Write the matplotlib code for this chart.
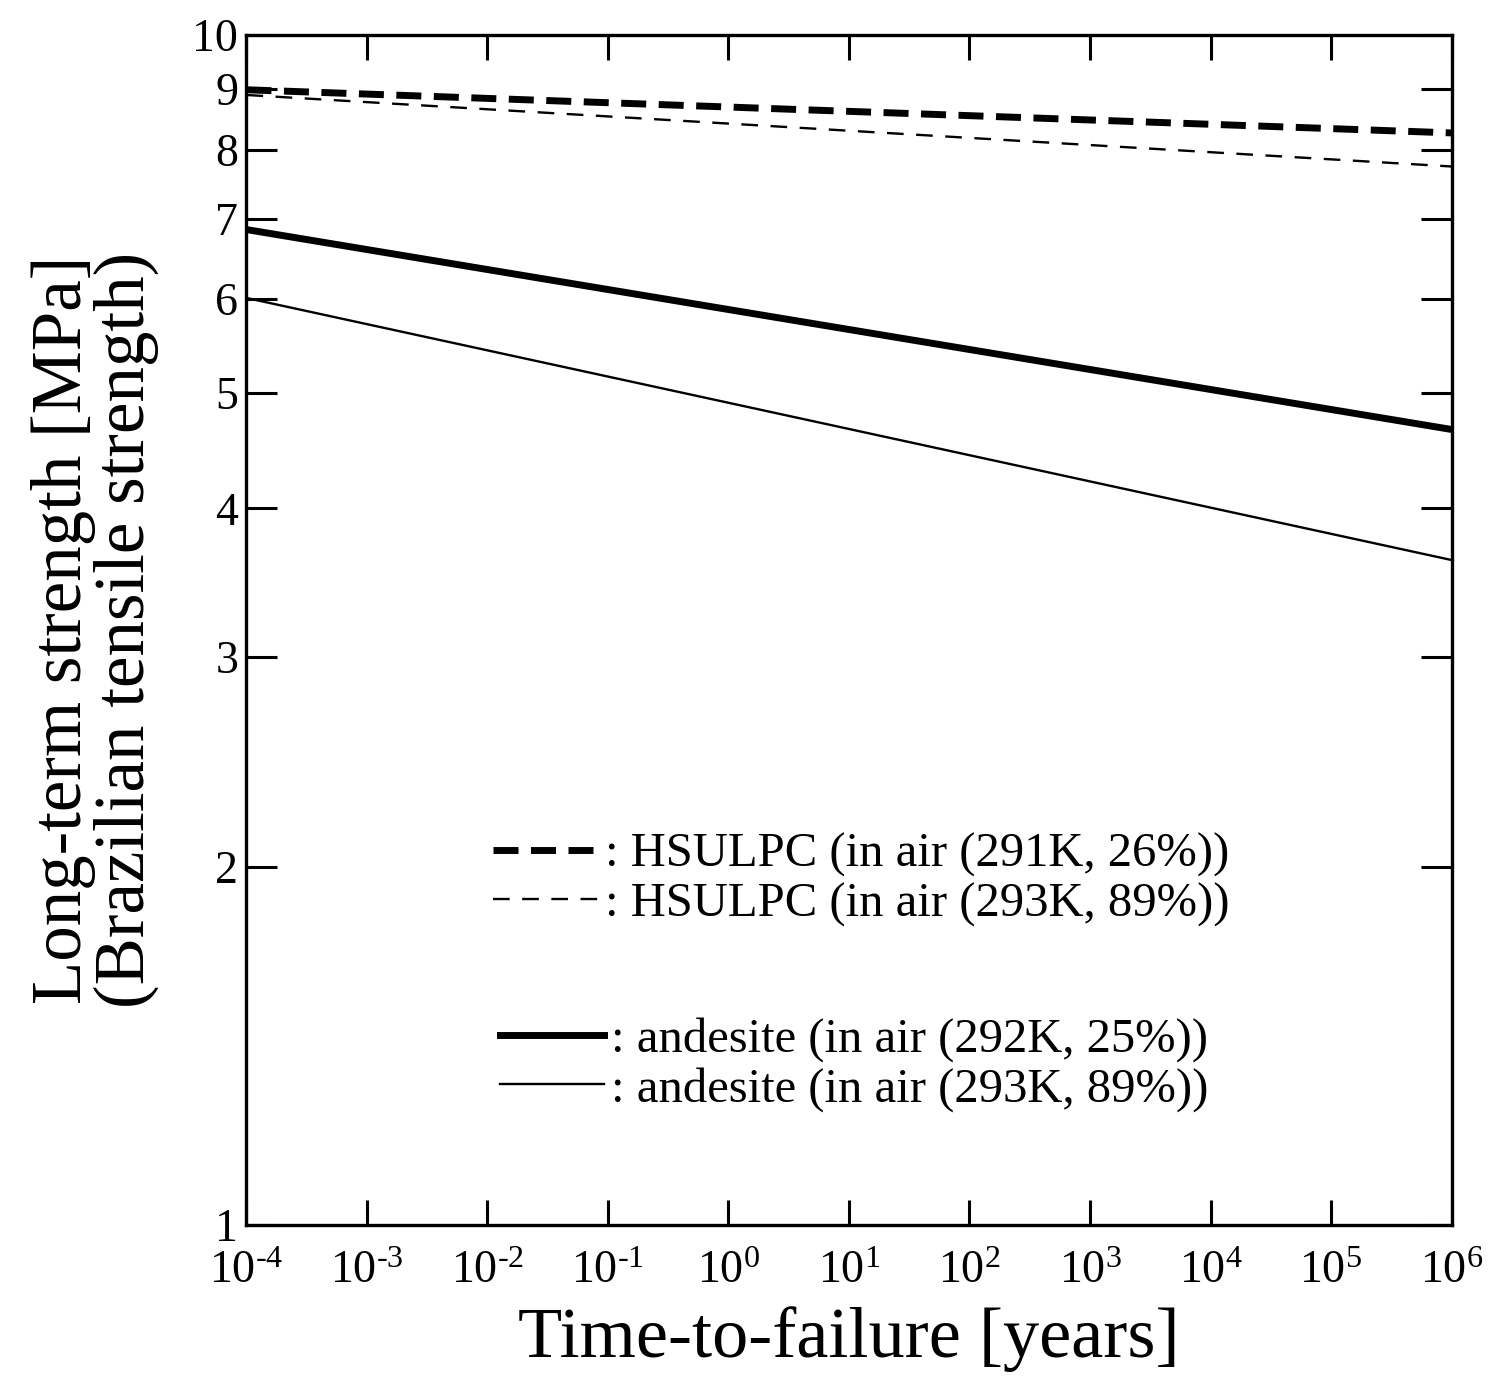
import matplotlib
matplotlib.use("Agg")
import matplotlib.pyplot as plt
from matplotlib.ticker import FixedLocator, FixedFormatter, NullLocator

plt.rcParams['font.family'] = ['Liberation Serif', 'DejaVu Serif']
plt.rcParams['mathtext.fontset'] = 'custom'
plt.rcParams['mathtext.rm'] = 'Liberation Serif'
plt.rcParams['mathtext.it'] = 'Liberation Serif'
plt.rcParams['lines.scale_dashes'] = False

# Data (time-to-failure in years, long-term strength in MPa)
time_years = [1e-4, 1e6]
hsulpc_291K_26 = [8.99, 8.27]
hsulpc_293K_89 = [8.90, 7.75]
andesite_292K_25 = [6.86, 4.66]
andesite_293K_89 = [6.01, 3.62]

labels = [": HSULPC (in air (291K, 26%))",
          ": HSULPC (in air (293K, 89%))",
          ": andesite (in air (292K, 25%))",
          ": andesite (in air (293K, 89%))"]

x_ticks = [1e-4, 1e-3, 1e-2, 1e-1, 1e0, 1e1, 1e2, 1e3, 1e4, 1e5, 1e6]
x_tick_labels = [r"$10^{\text{-}4}$", r"$10^{\text{-}3}$", r"$10^{\text{-}2}$", r"$10^{\text{-}1}$",
                 "$10^{0}$", "$10^{1}$", "$10^{2}$", "$10^{3}$", "$10^{4}$", "$10^{5}$", "$10^{6}$"]
y_ticks = [1, 2, 3, 4, 5, 6, 7, 8, 9, 10]
y_tick_labels = ["1", "2", "3", "4", "5", "6", "7", "8", "9", "10"]

fig = plt.figure(figsize=(15.12, 13.89), dpi=100)
ax = fig.add_axes([0.163, 0.118, 0.797, 0.857])

l1, = ax.plot(time_years, hsulpc_291K_26, color='black', lw=5, linestyle=(0, (18, 9)))
l2, = ax.plot(time_years, hsulpc_293K_89, color='black', lw=1.7, linestyle=(0, (12, 9)))
l3, = ax.plot(time_years, andesite_292K_25, color='black', lw=5)
l4, = ax.plot(time_years, andesite_293K_89, color='black', lw=1.7)

ax.set_xscale('log')
ax.set_yscale('log')
ax.set_xlim(1e-4, 1e6)
ax.set_ylim(1, 10)

ax.xaxis.set_major_locator(FixedLocator(x_ticks))
ax.xaxis.set_major_formatter(FixedFormatter(x_tick_labels))
ax.xaxis.set_minor_locator(NullLocator())
ax.yaxis.set_major_locator(FixedLocator(y_ticks))
ax.yaxis.set_major_formatter(FixedFormatter(y_tick_labels))
ax.yaxis.set_minor_locator(NullLocator())

ax.tick_params(axis='both', which='major', direction='in', top=True, right=True,
               width=2.2, labelsize=33, color='black')
ax.tick_params(axis='y', length=22, pad=6)
ax.tick_params(axis='x', length=18, pad=18)
for s in ax.spines.values():
    s.set_linewidth(2.4)

ax.set_xlabel("Time-to-failure [years]", fontsize=52, labelpad=10)
ax.set_ylabel("Long-term strength [MPa]\n(Brazilian tensile strength)", fontsize=51,
              labelpad=24, linespacing=0.95)

leg_kw = dict(frameon=False, fontsize=35, handlelength=2.15, handletextpad=0.15,
              labelspacing=0.1, borderaxespad=0, borderpad=0)
leg1 = ax.legend([l1, l2], labels[:2], loc='center left', bbox_to_anchor=(0.205, 0.29), **leg_kw)
ax.add_artist(leg1)
ax.legend([l3, l4], labels[2:], loc='center left', bbox_to_anchor=(0.21, 0.135), **leg_kw)

fig.savefig("out.png", dpi=100, facecolor='white')
